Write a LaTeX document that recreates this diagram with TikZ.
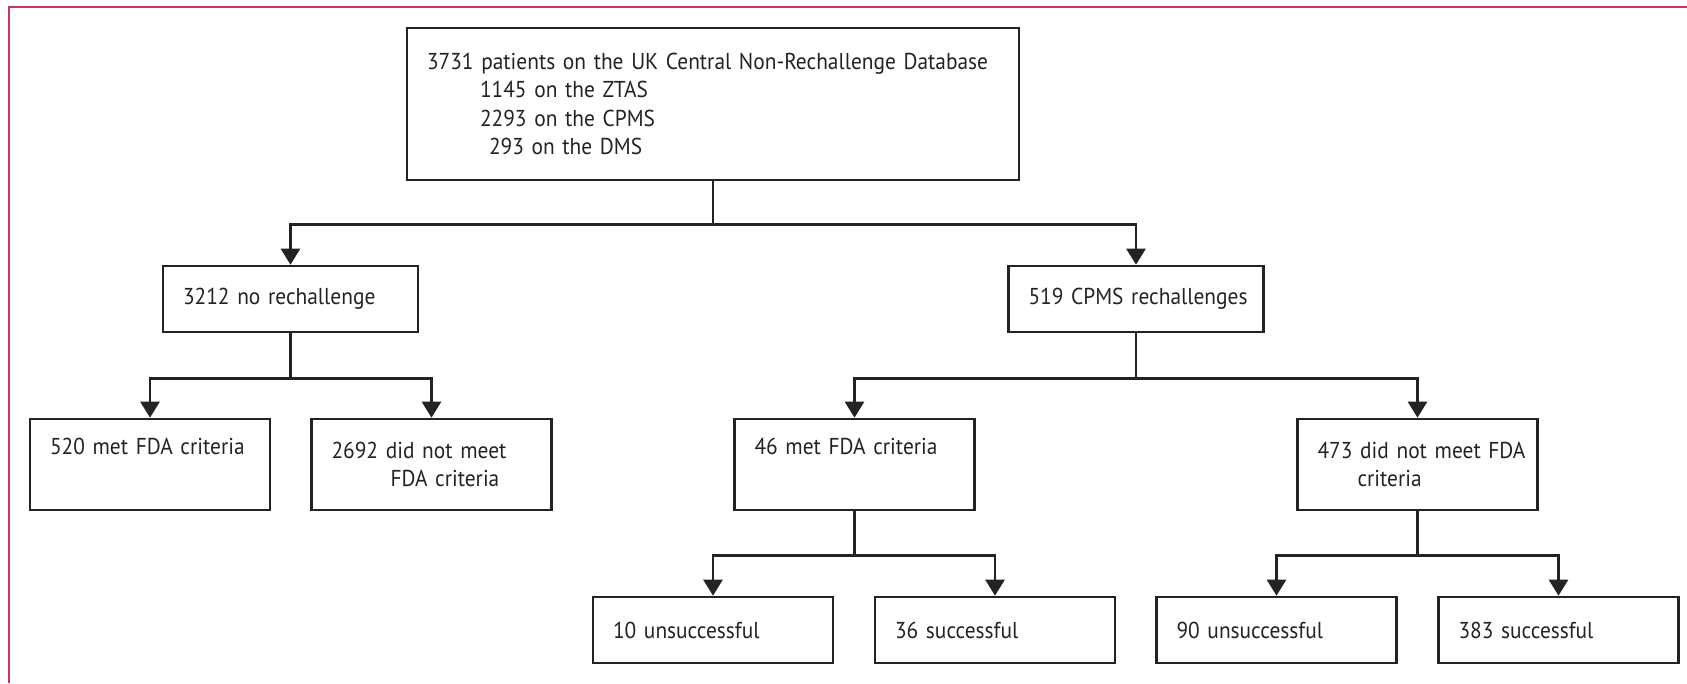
\documentclass[tikz,border=0pt]{standalone}
\usepackage{fontspec}
\setmainfont{PT Sans}[FakeStretch=0.93, WordSpace=0.8]
\usetikzlibrary{arrows.meta}
\definecolor{framecol}{RGB}{200,52,90}
\definecolor{ink}{RGB}{35,35,35}
\hfuzz=200pt
\hbadness=10000
\begin{document}
\begin{tikzpicture}[x=1pt,y=-1pt,
  box/.style={draw=ink, line width=2.6pt, inner xsep=20pt, inner ysep=3pt,
    align=left, text=ink, font=\fontsize{23}{28.5}\selectfont},
  headbox/.style={box, minimum height=152pt, text width=572pt},
  splitbox/.style={box, minimum height=66pt, text width=215pt},
  critbox/.style={box, minimum height=91pt, text width=200pt},
  outbox/.style={box, minimum height=66pt, text width=200pt},
  link/.style={draw=ink, line width=2.6pt},
  arr/.style={link, -{Triangle[width=19pt,length=16pt]}}
]
\useasboundingbox (0,0) rectangle (1687,683);

% outer frame (top and left edges)
\draw[framecol, line width=2pt] (9,683) -- (9,7) -- (1687,7);

% database total
\node[headbox] (db) at (713,104)
  {\mbox{3731 patients on the UK Central Non-Rechallenge Database}\\
   \hspace*{53pt}\mbox{1145 on the ZTAS}\\
   \hspace*{53pt}\mbox{2293 on the CPMS}\\
   \hspace*{62pt}\mbox{293 on the DMS}};

% first split
\node[splitbox] (norech) at (290.5,299) {\mbox{3212 no rechallenge}};
\node[splitbox] (cpms) at (1136,299) {\mbox{519 CPMS rechallenges}};

% FDA criteria
\node[critbox] (met520) at (150,464.5) {\mbox{520 met FDA criteria}\\ \strut};
\node[critbox] (not2692) at (431.5,464.5) {\mbox{2692 did not meet}\\ \hspace*{59pt}\mbox{FDA criteria}};
\node[critbox] (met46) at (854.5,464.5) {\mbox{46 met FDA criteria}\\ \strut};
\node[critbox] (not473) at (1417.5,464.5) {\mbox{473 did not meet FDA}\\ \hspace*{40pt}criteria};

% rechallenge outcomes
\node[outbox] (uns10) at (713,630) {\mbox{10 unsuccessful}};
\node[outbox] (suc36) at (995,630) {\mbox{36 successful}};
\node[outbox] (uns90) at (1276.5,630) {\mbox{90 unsuccessful}};
\node[outbox] (suc383) at (1558.5,630) {\mbox{383 successful}};

% connectors
\draw[arr] (db.south) -- ++(0,43) -| (norech.north);
\draw[arr] (db.south) -- ++(0,43) -| (cpms.north);
\draw[arr] (norech.south) -- ++(0,45) -| (met520.north);
\draw[arr] (norech.south) -- ++(0,45) -| (not2692.north);
\draw[arr] (cpms.south) -- ++(0,45) -| (met46.north);
\draw[arr] (cpms.south) -- ++(0,45) -| (not473.north);
\draw[arr] (met46.south) -- ++(0,44) -| (uns10.north);
\draw[arr] (met46.south) -- ++(0,44) -| (suc36.north);
\draw[arr] (not473.south) -- ++(0,44) -| (uns90.north);
\draw[arr] (not473.south) -- ++(0,44) -| (suc383.north);
\end{tikzpicture}
\end{document}
